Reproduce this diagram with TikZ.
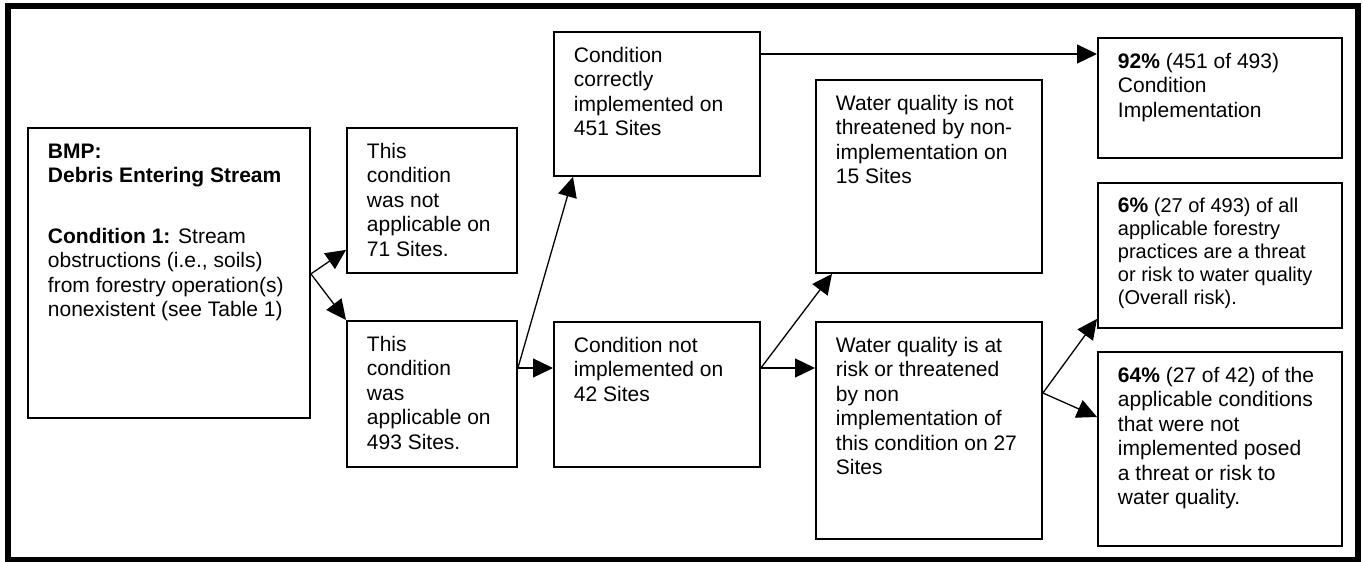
\documentclass[tikz,border=0pt]{standalone}
\usepackage{fontspec}
\setmainfont{Liberation Sans}
\usepackage{tikz}
\usetikzlibrary{calc,arrows.meta}
\def\drawarr{\draw[line width=1.3pt,-{Triangle[length=20pt,width=19pt]}]}
\def\boxnode{\node[draw,line width=1.9pt,anchor=north west,inner sep=0pt]}
\newcommand\cellbody[3]{\begin{minipage}[t][#2][t]{#1}\vspace*{13pt}\leftskip=20pt\relax\strut #3\end{minipage}}

\begin{document}
\begin{tikzpicture}[x=1pt,y=-1pt,font=\fontsize{21}{24.5}\selectfont]
\useasboundingbox (0,0) rectangle (1363,562);
\draw[line width=6pt] (8,6) rectangle (1358,560); % outer frame

% ---------- the BMP and its condition
\boxnode (bmp) at (27,127) {\cellbody{282pt}{290pt}{\textbf{BMP:}\\ \textbf{Debris Entering Stream}\\[36pt] \textbf{Condition 1:} Stream\\ obstructions (i.e., soils)\\ from forestry operation(s)\\ nonexistent (see Table 1)}};

% ---------- applicable or not
\boxnode (notapp) at (346,127) {\cellbody{170pt}{145pt}{This\\ condition\\ was not\\ applicable on\\ 71 Sites.}};
\boxnode (app) at (346,320) {\cellbody{170pt}{146pt}{This\\ condition\\ was\\ applicable on\\ 493 Sites.}};

% ---------- implemented or not
\boxnode (correct) at (553,31) {\cellbody{206pt}{144pt}{Condition\\ correctly\\ implemented on\\ 451 Sites}};
\boxnode (notimpl) at (553,321) {\cellbody{206pt}{145pt}{Condition not\\ implemented on\\ 42 Sites}};

% ---------- threat to water quality
\boxnode (safe) at (815,79) {\cellbody{226pt}{193pt}{Water quality is not\\ threatened by non-\\ implementation on\\ 15 Sites}};
\boxnode (risk) at (815,321) {\cellbody{226pt}{217pt}{Water quality is at\\ risk or threatened\\ by non\\ implementation of\\ this condition on 27\\ Sites}};

% ---------- the percentages
\boxnode (pct92) at (1097,37) {\cellbody{244pt}{120pt}{\textbf{92\%} (451 of 493)\\ Condition\\ Implementation}};
\boxnode[font=\fontsize{20}{23}\selectfont] (pct6) at (1097,182) {\cellbody{244pt}{145pt}{{\fontsize{21}{23}\selectfont\textbf{6\%}} (27 of 493) of all\\ applicable forestry\\ practices are a threat\\ or risk to water quality\\ (Overall risk).}};
\boxnode (pct64) at (1097,351) {\cellbody{244pt}{194pt}{\textbf{64\%} (27 of 42) of the\\ applicable conditions\\ that were not\\ implemented posed\\ a threat or risk to\\ water quality.}};

% the forks between the columns
\coordinate (bmp_fork) at ($ (bmp.south east) + (0,-145) $);
\drawarr (bmp_fork) to ($ (notapp.south west) + (0,-24) $);
\drawarr (bmp_fork) to (app.north west);

\coordinate (app_fork) at ($ (app.north east) + (0,48) $);
\drawarr (app_fork) to ($ (correct.south west) + (20,0) $);
\drawarr (app_fork) to (notimpl.west |- app_fork);

\coordinate (impl_fork) at ($ (notimpl.north east) + (0,47) $);
\drawarr (impl_fork) to ($ (safe.south west) + (17,0) $);
\drawarr (impl_fork) to (risk.west |- impl_fork);

\coordinate (correct_out) at ($ (correct.north east) + (0,23) $);
\drawarr (correct_out) to (pct92.west |- correct_out);

\coordinate (risk_fork) at ($ (risk.north east) + (0,72) $);
\drawarr (risk_fork) to ($ (pct6.south west) + (0,-10) $);
\drawarr (risk_fork) to ($ (pct64.north west) + (0,66) $);
\end{tikzpicture}
\end{document}
